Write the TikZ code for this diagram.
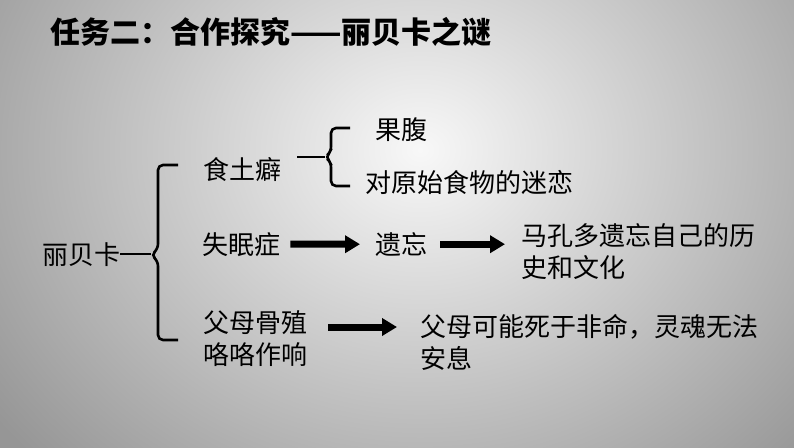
\documentclass[tikz,border=0pt]{standalone}
\usepackage{fontspec}
\usepackage{tikz}
\usetikzlibrary{arrows.meta,calc}
\newfontfamily\cjk{Noto Sans CJK SC}
\definecolor{bgin}{RGB}{248,248,248}
\definecolor{bgout}{RGB}{150,150,150}

\begin{document}
\begin{tikzpicture}[
    x=1pt, y=-1pt,
    every node/.style={inner sep=0pt, anchor=north west, align=left, font=\cjk\fontsize{26}{32}\selectfont},
    title/.style={font=\cjk\bfseries\fontsize{30}{34}\selectfont},
    brace/.style={draw, line width=2.6pt, rounded corners=5pt},
    bigarrow/.style={draw, line width=7pt, -{Triangle[length=15pt, width=17pt]}}
]
    \useasboundingbox (0,0) rectangle (794,447);
    % Background
    \begin{scope}
        \clip (0,0) rectangle (794,447);
        \shade[inner color=bgin, outer color=bgout] (-110,-300) rectangle (950,600);
    \end{scope}

    % Title
    \node[title] (title) at (50,17) {任务二：合作探究——丽贝卡之谜};

    % Root
    \node (lbk) at (42,242) {丽贝卡};

    % Branches
    \node (sxp) at (203,157) {食土癖};
    \node (smz) at (202,232) {失眠症};
    \node (fmg) at (203,310) {父母骨殖\\咯咯作响};

    % Leaves
    \node (gf)  at (375,117) {果腹};
    \node (dys) at (365,170) {对原始食物的迷恋};
    \node (yw)  at (375,232) {遗忘};
    \node (mkd) at (521,223) {马孔多遗忘自己的历\\史和文化};
    \node (fmk) at (420,314) {父母可能死于非命，灵魂无法\\安息};

    % Big brace
    \coordinate (bigtip) at (151,255);
    \draw[brace] (lbk.east) -- (lbk.east -| bigtip);
    \draw[brace] (178,165) -- (158,165) -- (158,249) -- (bigtip) -- (158,261) -- (158,340) -- (178,340);

    % Small brace
    \coordinate (sxpend) at (297,157);
    \coordinate (smalltip) at (325,157);
    \draw[brace] (sxpend) -- (smalltip);
    \draw[brace] (350,128) -- (331,128) -- (331,152) -- (smalltip) -- (331,162) -- (331,186) -- (350,186);

    % Arrows
    \draw[bigarrow, shorten <=10pt, shorten >=15pt] (smz.east) -- (yw.west);
    \draw[bigarrow, shorten <=13pt, shorten >=16pt] (yw.east) -- (mkd.west |- yw.east);
    \draw[bigarrow] ($(fmg.north east)+(21,17)$) -- ($(fmk.north west)+(-23,13)$);
\end{tikzpicture}
\end{document}
